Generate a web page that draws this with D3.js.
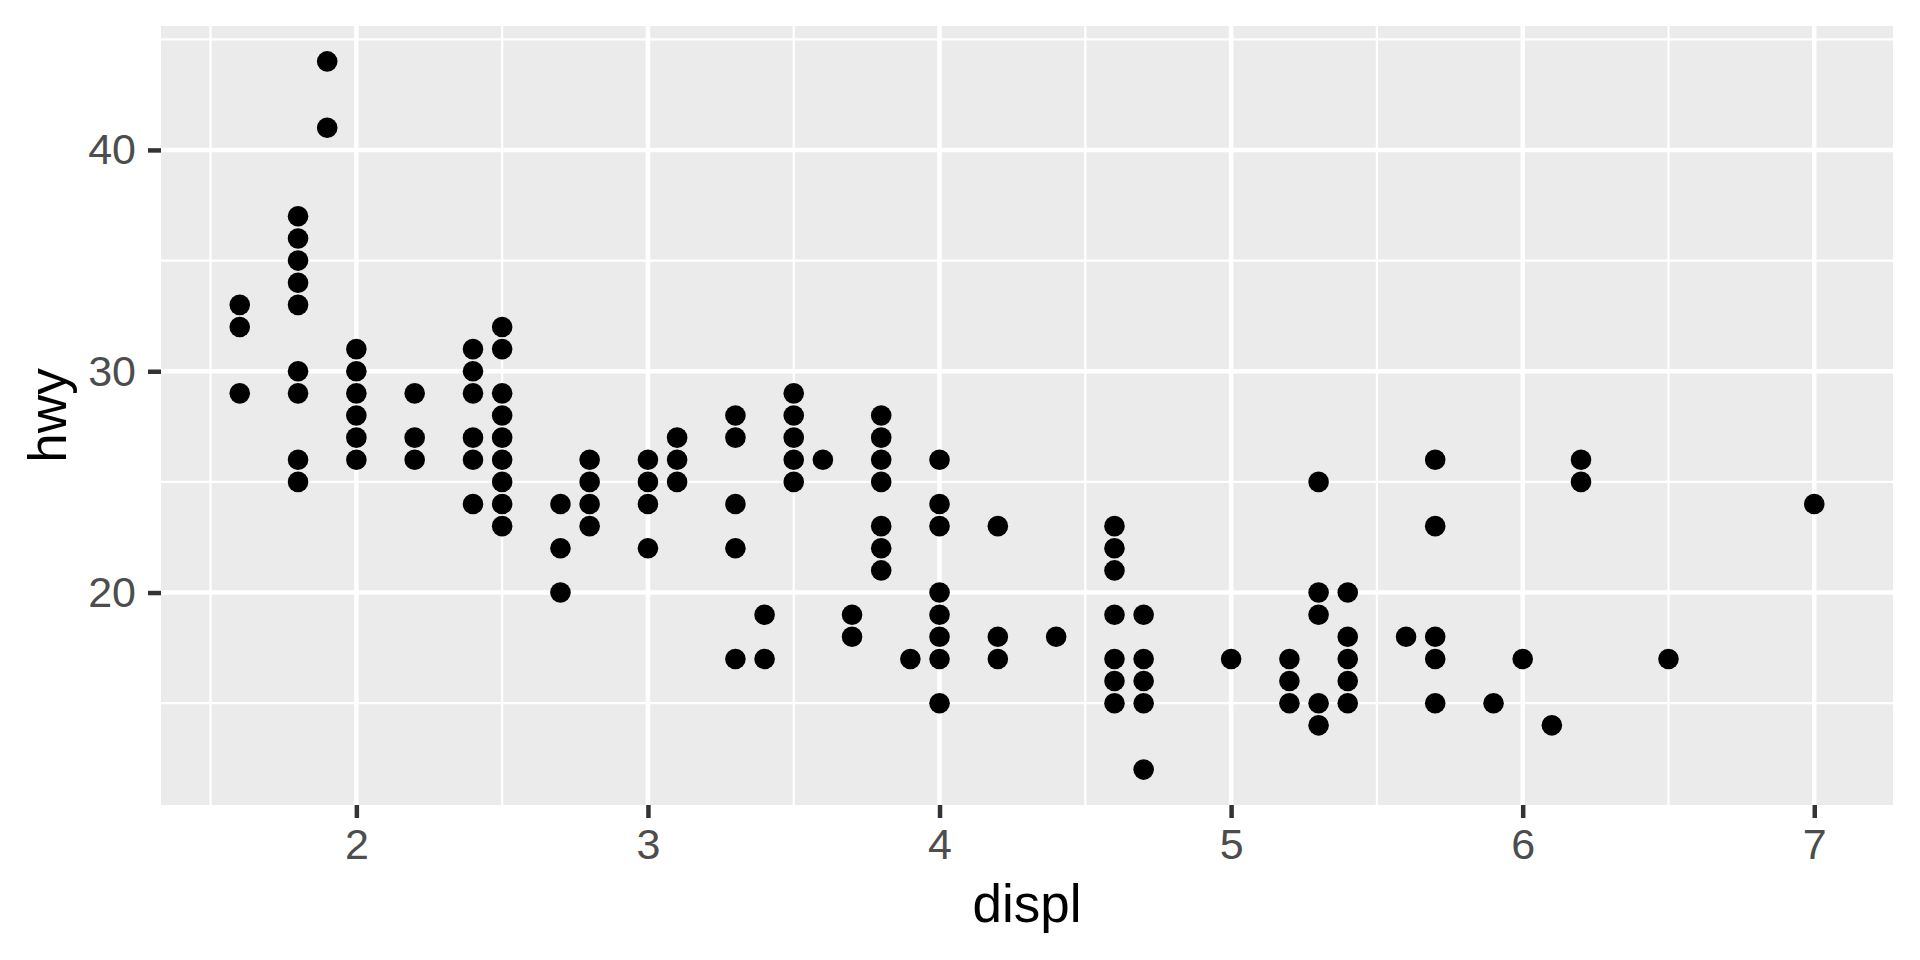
<!DOCTYPE html>
<html><head><meta charset="utf-8">
<script src="https://cdn.jsdelivr.net/npm/d3@7"></script>
<style>body{margin:0;background:#fff}svg{display:block}</style>
</head><body>
<script>
// data: unique (displ, hwy) pairs
const displ = [
 1.6,1.6,1.6,
 1.8,1.8,1.8,1.8,1.8,1.8,1.8,1.8,1.8,
 1.9,1.9,
 2.0,2.0,2.0,2.0,2.0,2.0,
 2.2,2.2,2.2,
 2.4,2.4,2.4,2.4,2.4,2.4,
 2.5,2.5,2.5,2.5,2.5,2.5,2.5,2.5,2.5,
 2.7,2.7,2.7,
 2.8,2.8,2.8,2.8,
 3.0,3.0,3.0,3.0,
 3.1,3.1,3.1,
 3.3,3.3,3.3,3.3,3.3,
 3.4,3.4,
 3.5,3.5,3.5,3.5,3.5,
 3.6,
 3.7,3.7,
 3.8,3.8,3.8,3.8,3.8,3.8,3.8,
 3.9,
 4.0,4.0,4.0,4.0,4.0,4.0,4.0,4.0,
 4.2,4.2,4.2,
 4.4,
 4.6,4.6,4.6,4.6,4.6,4.6,4.6,
 4.7,4.7,4.7,4.7,4.7,
 5.0,
 5.2,5.2,5.2,
 5.3,5.3,5.3,5.3,5.3,
 5.4,5.4,5.4,5.4,5.4,
 5.6,
 5.7,5.7,5.7,5.7,5.7,
 5.9,
 6.0,
 6.1,
 6.2,6.2,
 6.5,
 7.0
];
const hwy = [
 33,32,29,
 37,36,35,34,33,30,29,26,25,
 44,41,
 31,30,29,28,27,26,
 29,27,26,
 31,30,29,27,26,24,
 32,31,29,28,27,26,25,24,23,
 24,22,20,
 26,25,24,23,
 26,25,24,22,
 27,26,25,
 28,27,24,22,17,
 19,17,
 29,28,27,26,25,
 26,
 19,18,
 28,27,26,25,23,22,21,
 17,
 26,24,23,20,19,18,17,15,
 23,18,17,
 18,
 23,22,21,19,17,16,15,
 19,17,16,15,12,
 17,
 17,16,15,
 25,20,19,15,14,
 20,18,17,16,15,
 18,
 26,23,18,17,15,
 15,
 17,
 14,
 26,25,
 17,
 24
];
const xTicks = [2,3,4,5,6,7];
const yTicks = [20,30,40];
const xMinor = [1.5,2.5,3.5,4.5,5.5,6.5];
const yMinor = [15,25,35,45];
const xTitle = "displ";
const yTitle = "hwy";

const W = 1920, H = 960;
const P = {left:161, right:1893, top:26, bottom:805};
const svg = d3.select("body").append("svg").attr("width",W).attr("height",H);

const xr = d3.extent(displ), yr = d3.extent(hwy);
const xe = (xr[1]-xr[0])*0.05, ye = (yr[1]-yr[0])*0.05;
const x = d3.scaleLinear().domain([xr[0]-xe, xr[1]+xe]).range([P.left, P.right]);
const y = d3.scaleLinear().domain([yr[0]-ye, yr[1]+ye]).range([P.bottom, P.top]);

svg.append("rect").attr("x",P.left).attr("y",P.top)
  .attr("width",P.right-P.left).attr("height",P.bottom-P.top).attr("fill","#EBEBEB");

const g = svg.append("g");
g.selectAll(".xmin").data(xMinor.filter(v=>v>=x.domain()[0]&&v<=x.domain()[1])).enter().append("line")
  .attr("x1",d=>x(d)).attr("x2",d=>x(d)).attr("y1",P.top).attr("y2",P.bottom)
  .attr("stroke","#fff").attr("stroke-width",2.2);
g.selectAll(".ymin").data(yMinor.filter(v=>v>=y.domain()[0]&&v<=y.domain()[1])).enter().append("line")
  .attr("y1",d=>y(d)).attr("y2",d=>y(d)).attr("x1",P.left).attr("x2",P.right)
  .attr("stroke","#fff").attr("stroke-width",2.2);
g.selectAll(".xmaj").data(xTicks).enter().append("line")
  .attr("x1",d=>x(d)).attr("x2",d=>x(d)).attr("y1",P.top).attr("y2",P.bottom)
  .attr("stroke","#fff").attr("stroke-width",4.5);
g.selectAll(".ymaj").data(yTicks).enter().append("line")
  .attr("y1",d=>y(d)).attr("y2",d=>y(d)).attr("x1",P.left).attr("x2",P.right)
  .attr("stroke","#fff").attr("stroke-width",4.5);

const pts = displ.map((d,i)=>({x:d,y:hwy[i]}));
svg.append("g").selectAll("circle").data(pts).enter().append("circle")
  .attr("cx",d=>x(d.x)).attr("cy",d=>y(d.y)).attr("r",10.3).attr("fill","#000");

// axes
const xAxis = d3.axisBottom(x).tickValues(xTicks).tickSize(13).tickPadding(10).tickFormat(d3.format("d"));
const ax = svg.append("g").attr("transform",`translate(0,${P.bottom})`).call(xAxis);
ax.select(".domain").remove();
ax.selectAll("line").attr("stroke","#333").attr("stroke-width",4.5);
ax.selectAll("text").attr("fill","#4D4D4D").style("font-family","Liberation Sans, Arial, sans-serif").style("font-size","43px");

const yAxis = d3.axisLeft(y).tickValues(yTicks).tickSize(13).tickPadding(12).tickFormat(d3.format("d"));
const ay = svg.append("g").attr("transform",`translate(${P.left},0)`).call(yAxis);
ay.select(".domain").remove();
ay.selectAll("line").attr("stroke","#333").attr("stroke-width",4.5);
ay.selectAll("text").attr("fill","#4D4D4D").style("font-family","Liberation Sans, Arial, sans-serif").style("font-size","43px");

svg.append("text").attr("x",(P.left+P.right)/2).attr("y",922)
  .attr("text-anchor","middle").style("font-family","Liberation Sans, Arial, sans-serif")
  .style("font-size","53px").attr("fill","#000").text(xTitle);
svg.append("text").attr("transform",`translate(66,${(P.top+P.bottom)/2}) rotate(-90)`)
  .attr("text-anchor","middle").style("font-family","Liberation Sans, Arial, sans-serif")
  .style("font-size","53px").attr("fill","#000").text(yTitle);
</script>
</body></html>
